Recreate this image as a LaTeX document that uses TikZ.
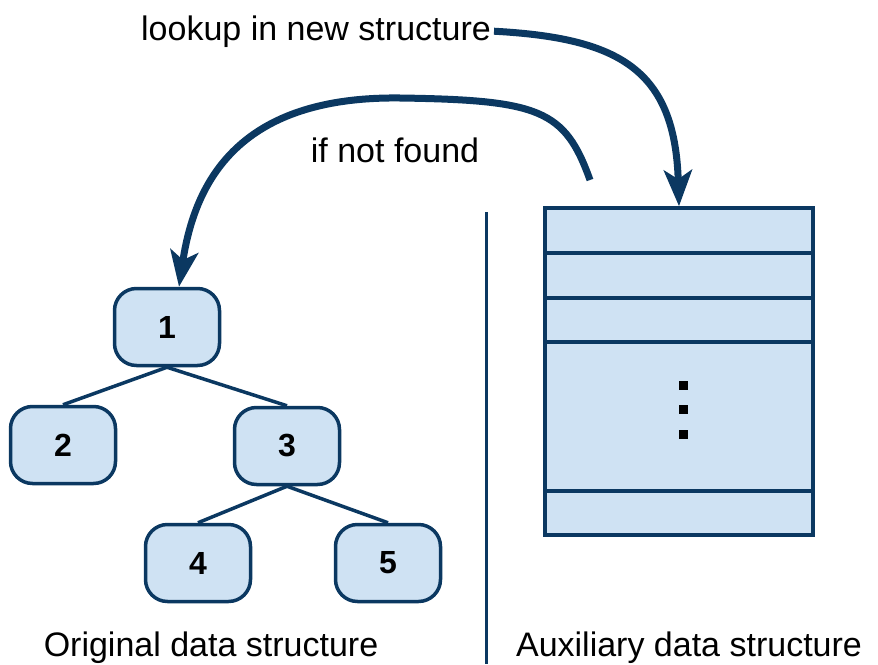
\documentclass[tikz,border=0pt]{standalone}
\usepackage{fontspec}
\setmainfont{Liberation Sans}
\usetikzlibrary{arrows.meta, positioning, calc}

\definecolor{nodefill}{HTML}{CFE2F3}
\definecolor{navy}{HTML}{0B3861}

\tikzset{
  treenode/.style={draw=navy, fill=nodefill, line width=3.5pt, rounded corners=22pt,
    minimum width=105pt, minimum height=77pt, inner sep=0pt,
    font=\fontsize{32}{36}\selectfont\bfseries},
  treeedge/.style={draw=navy, line width=3.5pt},
  label/.style={font=\fontsize{34}{40}\selectfont, inner sep=0pt},
  bigarrow/.style={draw=navy, line width=7pt,
    -{Stealth[length=36pt, width=28pt, inset=9pt]}},
}

\begin{document}
\begin{tikzpicture}[x=1pt, y=-1pt]
      \useasboundingbox (0,0) rectangle (878,664);

      % tree
      \node[treenode] (n1) at (167,327) {1};
      \node[treenode] (n2) at (63,445) {2};
      \node[treenode] (n3) at (287,446) {3};
      \node[treenode] (n4) at (198,563) {4};
      \node[treenode] (n5) at (388,563) {5};
      \draw[treeedge] (n1.south) -- (n2.north);
      \draw[treeedge] (n1.south) -- (n3.north);
      \draw[treeedge] (n3.south) -- (n4.north);
      \draw[treeedge] (n3.south) -- (n5.north);

      % divider
      \draw[navy, line width=3pt] (486,212) -- (486,664);

      % auxiliary table
      \node[draw=navy, fill=nodefill, line width=3.5pt, minimum width=268pt,
        minimum height=327pt, inner sep=0pt] (aux) at (679,371.5) {};
      \foreach \y in {253,298,342,491}
        \draw[navy, line width=3.5pt] (545,\y) -- (813,\y);
      \foreach \y in {385,409,434}
        \fill (678.5,\y-4.5) rectangle (687.5,\y+4.5);

      % labels
      \node[label, anchor=base] (lookup) at (316,40) {lookup in new structure};
      \node[label, anchor=base] (notfound) at (395,162) {if not found};
      \node[label, anchor=base] (orig) at (211,656) {Original data structure};
      \node[label, anchor=base] (auxlabel) at (689,656) {Auxiliary data structure};

      % arrows
      \coordinate (start) at (590,180);
      \draw[bigarrow] ([xshift=3pt]lookup.east) .. controls (620,38) and (675,70) .. (aux.north);
      \draw[bigarrow] (start) .. controls (565,110) and (540,100) .. (400,98)
        .. controls (240,96) and (195,180) .. ([xshift=12pt]n1.north);

\end{tikzpicture}
\end{document}
